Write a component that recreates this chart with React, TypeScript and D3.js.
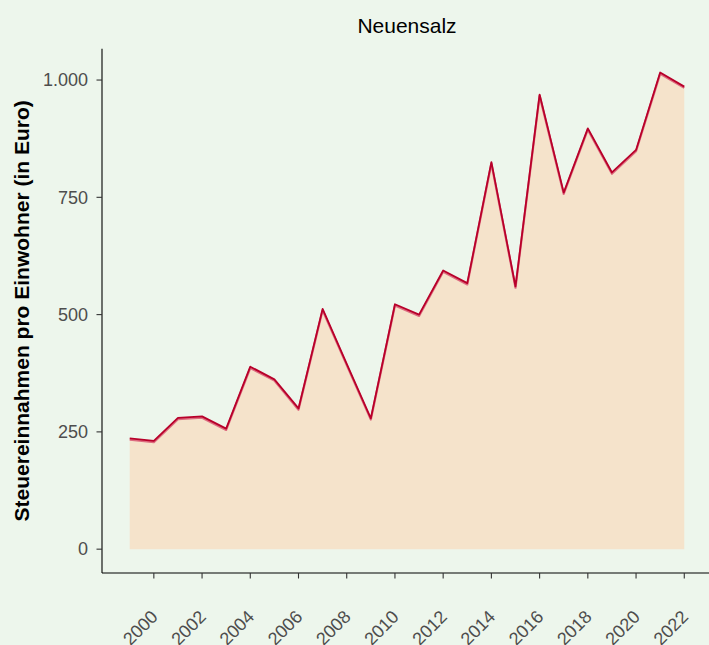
import React from "react";
import * as d3 from "d3";

const years = [1999, 2000, 2001, 2002, 2003, 2004, 2005, 2006, 2007, 2008, 2009, 2010, 2011, 2012, 2013, 2014, 2015, 2016, 2017, 2018, 2019, 2020, 2021, 2022];
const values = [236, 231, 280, 283, 257, 389, 362, 300, 512, 395, 279, 522, 500, 594, 567, 825, 560, 969, 760, 897, 803, 851, 1016, 986];
const xTicks = [2000, 2002, 2004, 2006, 2008, 2010, 2012, 2014, 2016, 2018, 2020, 2022];
const yTicks = [0, 250, 500, 750, 1000];
const title = "Neuensalz";
const yLabel = "Steuereinnahmen pro Einwohner (in Euro)";

const W = 709;
const H = 645;
const font = "Liberation Sans, Arial, Helvetica, sans-serif";

export default function App() {
  const left = 102;
  const right = 712;
  const top = 48.7;
  const bottom = 573;
  const xMin = d3.min(years)!;
  const xMax = d3.max(years)!;
  const xPad = (xMax - xMin) * 0.05;
  const yMaxV = d3.max(values)!;
  const yPad = yMaxV * 0.05;
  const x = d3.scaleLinear().domain([xMin - xPad, xMax + xPad]).range([left, right]);
  const y = d3.scaleLinear().domain([-yPad, yMaxV + yPad]).range([bottom, top]);
  const data = years.map((yr, i) => ({ yr, v: values[i] }));
  const area = d3.area<{ yr: number; v: number }>().x((d) => x(d.yr)).y0(y(0)).y1((d) => y(d.v));
  const line = d3.line<{ yr: number; v: number }>().x((d) => x(d.yr)).y((d) => y(d.v));
  const fmt = (v: number) => d3.format(",")(v).replace(/,/g, ".");
  return (
    <svg width={W} height={H} style={{ position: "absolute", left: 0, top: 0, display: "block" }} fontFamily={font}>
      <rect x={0} y={0} width={W} height={H} fill="#edf6ec" />
      <path d={area(data)!} fill="#f5e3cb" />
      <path d={line(data)!} fill="none" stroke="#dd6b7f" strokeWidth={2.2} transform="translate(0,1.3)" strokeLinejoin="round" />
      <path d={line(data)!} fill="none" stroke="#b8002a" strokeWidth={1.8} strokeLinejoin="round" />
      <line x1={left} x2={left} y1={top} y2={bottom} stroke="#000" strokeWidth={1.1} />
      <line x1={left} x2={W} y1={bottom} y2={bottom} stroke="#000" strokeWidth={1.1} />
      {yTicks.map((t) => (
        <g key={t}>
          <line x1={left - 5.5} x2={left} y1={y(t)} y2={y(t)} stroke="#333" strokeWidth={1.1} />
          <text x={88} y={y(t)} dy="0.35em" textAnchor="end" fontSize={18} fill="#4d4d4d">
            {fmt(t)}
          </text>
        </g>
      ))}
      {xTicks.map((t) => (
        <g key={t}>
          <line x1={x(t)} x2={x(t)} y1={bottom} y2={bottom + 5.5} stroke="#333" strokeWidth={1.1} />
          <text
            transform={`translate(${x(t) + 5},${bottom + 45}) rotate(-45)`}
            textAnchor="end"
            fontSize={18}
            fill="#4d4d4d"
          >
            {t}
          </text>
        </g>
      ))}
      <text x={(left + right) / 2} y={33.3} textAnchor="middle" fontSize={21} fill="#000">
        {title}
      </text>
      <text
        transform={`translate(28.5,${(top + bottom) / 2}) rotate(-90)`}
        textAnchor="middle"
        fontSize={21}
        fontWeight="bold"
        fill="#000"
      >
        {yLabel}
      </text>
    </svg>
  );
}
